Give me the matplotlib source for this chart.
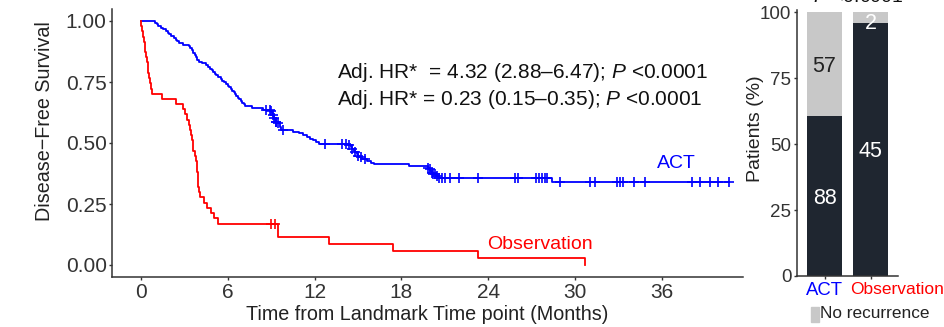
import numpy as np
import matplotlib
matplotlib.use("Agg")
import matplotlib.pyplot as plt
from matplotlib.patches import Rectangle
from matplotlib.transforms import ScaledTranslation

plt.rcParams['font.family'] = ['Liberation Sans', 'DejaVu Sans']
plt.rcParams['mathtext.fontset'] = 'custom'
plt.rcParams['mathtext.rm'] = 'Liberation Sans'
plt.rcParams['mathtext.it'] = 'Liberation Sans:italic'

# ---------------- data ----------------
act_t = [0, 1.0, 1.1, 1.2, 1.4, 1.55, 1.7, 1.85, 1.95, 2.1, 2.25, 2.45, 2.5, 2.6, 2.9,
         3.3, 3.4, 3.5, 3.6, 3.7, 3.8, 3.9, 4.0, 4.2, 4.5, 4.6, 4.8, 4.9, 5.0, 5.1,
         5.2, 5.35, 5.5, 5.6, 5.75, 5.9, 6.0, 6.1, 6.2, 6.3, 6.4, 6.5, 6.6, 6.7, 6.8,
         6.9, 7.0, 7.1, 7.2, 7.7, 8.4, 8.95, 9.05, 9.1, 9.15, 9.2, 9.25, 9.3, 9.4,
         9.6, 9.65, 10.5, 10.9, 11.2, 11.5, 11.7, 11.9, 12.1, 12.3, 14.3, 14.5, 14.6,
         14.7, 14.8, 14.9, 15.0, 15.1, 15.3, 15.6, 15.9, 16.1, 18.5, 19.8, 19.9, 20.0,
         20.1, 20.2, 20.4, 20.6, 28.4, 40.6]
act_s = [1.0, 0.993, 0.986, 0.979, 0.972, 0.966, 0.959, 0.952, 0.945, 0.938, 0.931,
         0.924, 0.917, 0.910, 0.903, 0.896, 0.889, 0.882, 0.868, 0.861, 0.854, 0.840,
         0.833, 0.826, 0.819, 0.812, 0.805, 0.798, 0.791, 0.784, 0.777, 0.770, 0.763,
         0.756, 0.749, 0.742, 0.735, 0.728, 0.721, 0.714, 0.707, 0.700, 0.693, 0.686,
         0.679, 0.672, 0.665, 0.658, 0.651, 0.644, 0.637, 0.630, 0.623, 0.616, 0.609,
         0.602, 0.595, 0.588, 0.581, 0.567, 0.553, 0.546, 0.539, 0.532, 0.525, 0.518,
         0.511, 0.504, 0.497, 0.490, 0.483, 0.476, 0.469, 0.462, 0.455, 0.448, 0.441,
         0.434, 0.427, 0.420, 0.413, 0.406, 0.399, 0.392, 0.385, 0.378, 0.371, 0.364,
         0.357, 0.339, 0.339]
act_cens = [8.67, 8.9, 9.0, 9.1, 9.2, 9.3, 9.35, 9.45, 9.8, 12.7, 13.9, 14.2, 14.4,
            14.6, 14.8, 15.0, 15.2, 15.5, 19.8, 19.95, 20.1, 20.2, 20.3, 20.45, 20.6,
            20.8, 21.0, 21.35, 22.0, 23.3, 25.85, 26.05, 27.3, 27.5, 27.7, 27.9, 28.05,
            28.95, 31.0, 31.4, 32.9, 33.1, 33.3, 34.1, 34.8, 38.1, 38.6, 39.3, 39.9, 40.6]

obs_t = [0, 0.02, 0.08, 0.15, 0.20, 0.25, 0.30, 0.35, 0.42, 0.48, 0.52, 0.58, 0.63,
         0.70, 0.75, 1.45, 2.45, 2.90, 3.05, 3.20, 3.30, 3.38, 3.45, 3.52, 3.58, 3.62,
         3.70, 3.78, 3.85, 3.88, 3.92, 3.94, 3.97, 4.00, 4.05, 4.35, 4.55, 4.85, 5.05,
         5.30, 9.5, 13.0, 17.4, 23.3, 30.7]
obs_s = [1.0, 0.979, 0.957, 0.936, 0.915, 0.894, 0.872, 0.851, 0.830, 0.809, 0.787,
         0.766, 0.745, 0.723, 0.702, 0.681, 0.660, 0.638, 0.617, 0.596, 0.574, 0.553,
         0.532, 0.511, 0.489, 0.468, 0.447, 0.426, 0.404, 0.383, 0.362, 0.340, 0.319,
         0.298, 0.277, 0.255, 0.234, 0.213, 0.191, 0.170, 0.113, 0.085, 0.057, 0.028,
         0.0]
obs_cens = [9.0, 9.25]

groups = ["ACT", "Observation"]
recurrence = [88, 45]
no_recurrence = [57, 2]

x_ticks = [0, 6, 12, 18, 24, 30, 36]
y_ticks = [0.0, 0.25, 0.5, 0.75, 1.0]
bar_y_ticks = [0, 25, 50, 75, 100]

line1 = "Adj. HR*  = 4.32 (2.88\u20136.47); $\\mathit{P}$ <0.0001"
line2 = "Adj. HR* = 0.23 (0.15\u20130.35); $\\mathit{P}$ <0.0001"

BLUE = "#0000FF"
RED = "#FF0000"
DARK = "#1f2630"
LIGHT = "#c8c8c8"
AX = "#333333"
TXT = "#333333"

W, H = 944, 327
fig = plt.figure(figsize=(W / 100, H / 100), dpi=100)


def frac(x0, y0, x1, y1):
    return [x0 / W, 1 - y1 / H, (x1 - x0) / W, (y1 - y0) / H]


# ---------------- KM panel ----------------
ax = fig.add_axes(frac(112.3, 8.8, 742.7, 277.2))
ax.step(act_t, act_s, where='post', color=BLUE, lw=1.3)
ax.step(obs_t, obs_s, where='post', color=RED, lw=1.3)


def surv_at(t_arr, s_arr, t):
    i = np.searchsorted(np.asarray(t_arr), t, side='right') - 1
    return np.asarray(s_arr)[i]


ax.plot(act_cens, [surv_at(act_t, act_s, c) for c in act_cens], ls='none',
        marker='+', ms=7.5, mew=1.2, color=BLUE)
ax.plot(obs_cens, [surv_at(obs_t, obs_s, c) for c in obs_cens], ls='none',
        marker='+', ms=7.5, mew=1.2, color=RED)

ax.set_xlim(-1.98, 41.58)
ax.set_ylim(-0.05, 1.05)
ax.set_xticks(x_ticks)
ax.set_yticks(y_ticks)
ax.set_yticklabels([f"{v:.2f}" for v in y_ticks])
for s in ['top', 'right']:
    ax.spines[s].set_visible(False)
for s in ['left', 'bottom']:
    ax.spines[s].set_color(AX)
    ax.spines[s].set_linewidth(1.1)
ax.tick_params(colors=AX, labelcolor=TXT, labelsize=15, length=2.5, width=1.0, pad=1.5)
ax.set_xlabel("Time from Landmark Time point (Months)", fontsize=14.2, color='#222222')
ax.set_ylabel("Disease\u2212Free Survival", fontsize=14.2, color='#222222')
ax.xaxis.set_label_coords(0.5, -(315 - 277.2) / 268.4)
ax.yaxis.set_label_coords((45 - 112.3) / 630.4, (277.2 - 121) / 268.4)
ax.xaxis.label.set_va('center')
ax.yaxis.label.set_va('center')

ax.text(13.55, 0.787, line1, fontsize=15, color='#111111', va='center', ha='left')
ax.text(13.55, 0.680, line2, fontsize=15, color='#111111', va='center', ha='left')
ax.text(37.0, 0.418, "ACT", color=BLUE, fontsize=14, ha='center', va='center')
ax.text(27.6, 0.086, "Observation", color=RED, fontsize=14, ha='center', va='center')

# ---------------- bar panel ----------------
bx = fig.add_axes(frac(796.9, 10, 898.1, 276))
tot = np.array(recurrence) + np.array(no_recurrence)
p_rec = np.array(recurrence) / tot * 100
p_no = np.array(no_recurrence) / tot * 100
xpos = np.arange(1, len(groups) + 1)
bx.bar(xpos, p_rec, width=0.76, color=DARK)
bx.bar(xpos, p_no, bottom=p_rec, width=0.76, color=LIGHT)
bx.set_xlim(0.4, 2.6)
bx.set_ylim(0, 100.8)
bx.set_yticks(bar_y_ticks)
bx.set_xticks(xpos)
bx.set_xticklabels(groups)
for s in ['top', 'right']:
    bx.spines[s].set_visible(False)
for s in ['left', 'bottom']:
    bx.spines[s].set_color(AX)
    bx.spines[s].set_linewidth(1.1)
bx.tick_params(colors=AX, labelcolor=TXT, labelsize=13.5, length=2.5, width=1.0, pad=1.5)
labs = bx.get_xticklabels()
labs[0].set_color(BLUE)
labs[0].set_fontsize(13.3)
labs[1].set_color(RED)
labs[1].set_fontsize(12.5)
labs[1].set_ha('left')
labs[1].set_transform(labs[1].get_transform() + ScaledTranslation(-0.205, 0, fig.dpi_scale_trans))
bx.set_ylabel("Patients (%)", fontsize=14, color='#222222')
bx.yaxis.set_label_coords((755 - 796.9) / 101.2, (276 - 129) / 266)
bx.yaxis.label.set_va('center')

NUM_FS = 15.5
for i in range(len(groups)):
    bx.annotate(str(recurrence[i]), (xpos[i], p_rec[i] / 2), xytext=(0, -0.358 * NUM_FS),
                textcoords='offset points', color='white', fontsize=NUM_FS,
                ha='center', va='baseline')
    small = p_no[i] < 10
    col = 'white' if small else '#222222'
    bx.annotate(str(no_recurrence[i]), (xpos[i], p_rec[i] + p_no[i] / 2 - (1.5 if small else 0)),
                xytext=(0, -0.358 * NUM_FS), textcoords='offset points', color=col,
                fontsize=NUM_FS, ha='center', va='baseline', annotation_clip=False)

# legend
fig.patches.append(Rectangle((811 / W, 1 - 322 / H), 8 / W, 15 / H,
                             transform=fig.transFigure, color=LIGHT, zorder=3))
fig.text(820 / W, 1 - 314 / H, "No recurrence", fontsize=12.4, color='#222222',
         ha='left', va='center')

# clipped top text
fig.text(813 / W, 1 - 2.5 / H, "$\\mathit{P}$ <0.0001", fontsize=14, color='#111111',
         ha='left', va='baseline')

fig.savefig("out.png", dpi=100)
